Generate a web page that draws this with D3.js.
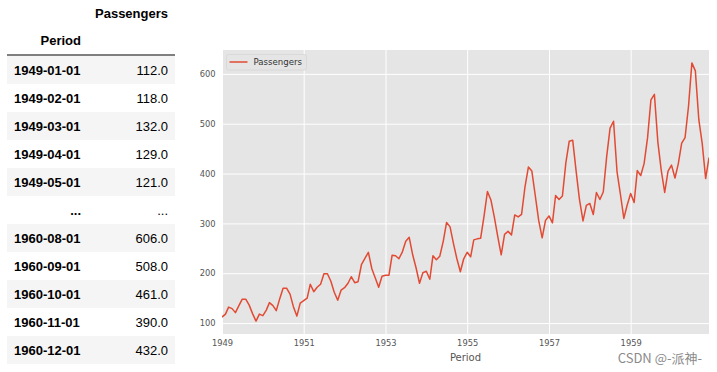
<!DOCTYPE html>
<html>
<head>
<meta charset="utf-8">
<script src="https://cdn.jsdelivr.net/npm/d3@7"></script>
<style>
  body { margin: 0; background: #fff; }
  svg { display: block; }
</style>
</head>
<body>
<div id="chart"></div>
<script>
// monthly airline passengers, 1949-01 .. 1960-12 (one row per year)
const startMonth = '1949-01-01';
const passengers = [
  112, 118, 132, 129, 121, 135, 148, 148, 136, 119, 104, 118,
  115, 126, 141, 135, 125, 149, 170, 170, 158, 133, 114, 140,
  145, 150, 178, 163, 172, 178, 199, 199, 184, 162, 146, 166,
  171, 180, 193, 181, 183, 218, 230, 242, 209, 191, 172, 194,
  196, 196, 236, 235, 229, 243, 264, 272, 237, 211, 180, 201,
  204, 188, 235, 227, 234, 264, 302, 293, 259, 229, 203, 229,
  242, 233, 267, 269, 270, 315, 364, 347, 312, 274, 237, 278,
  284, 277, 317, 313, 318, 374, 413, 405, 355, 306, 271, 306,
  315, 301, 356, 348, 355, 422, 465, 467, 404, 347, 305, 336,
  340, 318, 362, 348, 363, 435, 491, 505, 404, 359, 310, 337,
  360, 342, 406, 396, 420, 472, 548, 559, 463, 407, 362, 405,
  417, 391, 419, 461, 472, 535, 622, 606, 508, 461, 390, 432
];
const yTicks = [100, 200, 300, 400, 500, 600];
const xTickYears = [1949, 1951, 1953, 1955, 1957, 1959];

// table shown next to the chart (df head/tail)
const tableIndex = ['1949-01-01', '1949-02-01', '1949-03-01', '1949-04-01', '1949-05-01',
  '...', '1960-08-01', '1960-09-01', '1960-10-01', '1960-11-01', '1960-12-01'];
const tableValues = ['112.0', '118.0', '132.0', '129.0', '121.0',
  '...', '606.0', '508.0', '461.0', '390.0', '432.0'];

const W = 717, H = 372;
const svg = d3.select('#chart').append('svg')
  .attr('width', W)
  .attr('height', H);

// ---- table ----
const tbl = svg.append('g').attr('font-family', '"Liberation Sans", Arial, sans-serif')
  .attr('font-size', 13).attr('fill', '#000');
const rowTop = 56, rowH = 28, tblLeft = 7, tblRight = 175;

tbl.append('text').attr('x', 168).attr('y', 17.5)
  .attr('text-anchor', 'end').attr('font-weight', 'bold').text('Passengers');
tbl.append('text').attr('x', 81).attr('y', 45)
  .attr('text-anchor', 'end').attr('font-weight', 'bold').text('Period');
tbl.append('line')
  .attr('x1', tblLeft).attr('x2', tblRight)
  .attr('y1', 55).attr('y2', 55)
  .attr('stroke', '#000').attr('stroke-width', 1);

const rows = tbl.selectAll('.row')
  .data(tableIndex.map((d, i) => ({ idx: d, val: tableValues[i], i })))
  .enter().append('g')
  .attr('class', 'row')
  .attr('transform', d => `translate(0,${rowTop + d.i * rowH})`);

rows.filter(d => d.i % 2 === 0).append('rect')
  .attr('x', tblLeft).attr('y', 0)
  .attr('width', tblRight - tblLeft).attr('height', rowH)
  .attr('fill', '#f5f5f5');

rows.append('text')
  .attr('x', d => d.idx === '...' ? 81 : 14)
  .attr('y', 18.5)
  .attr('text-anchor', d => d.idx === '...' ? 'end' : 'start')
  .attr('font-weight', 'bold')
  .text(d => d.idx);

rows.append('text')
  .attr('x', 168).attr('y', 18.5)
  .attr('text-anchor', 'end')
  .text(d => d.val);

// ---- line chart ----
const parse = d3.timeParse('%Y-%m-%d');
const t0 = parse(startMonth);
const series = passengers.map((v, i) => ({ date: d3.timeMonth.offset(t0, i), value: v }));

const plot = { left: 222, right: 709, top: 50, bottom: 334 };
const x = d3.scaleTime()
  .domain(d3.extent(series, d => d.date))
  .range([plot.left, plot.right]);

const [vmin, vmax] = d3.extent(passengers);
const pad = (vmax - vmin) * 0.05;
const y = d3.scaleLinear()
  .domain([vmin - pad, vmax + pad])
  .range([plot.bottom, plot.top]);

svg.append('rect')
  .attr('x', plot.left).attr('y', plot.top)
  .attr('width', plot.right - plot.left)
  .attr('height', plot.bottom - plot.top)
  .attr('fill', '#E5E5E5');

const xTicks = xTickYears.map(yr => new Date(yr, 0, 1));

// grid
svg.append('g')
  .attr('transform', `translate(0,${plot.bottom})`)
  .call(d3.axisBottom(x).tickValues(xTicks).tickSize(-(plot.bottom - plot.top)).tickFormat(''))
  .call(g => g.select('.domain').remove())
  .call(g => g.selectAll('line').attr('stroke', '#fff').attr('stroke-width', 1));

svg.append('g')
  .attr('transform', `translate(${plot.left},0)`)
  .call(d3.axisLeft(y).tickValues(yTicks).tickSize(-(plot.right - plot.left)).tickFormat(''))
  .call(g => g.select('.domain').remove())
  .call(g => g.selectAll('line').attr('stroke', '#fff').attr('stroke-width', 1));

// tick labels
const xAxis = svg.append('g')
  .attr('transform', `translate(0,${plot.bottom})`)
  .call(d3.axisBottom(x).tickValues(xTicks).tickSize(0).tickPadding(6).tickFormat(d3.timeFormat('%Y')));
xAxis.select('.domain').remove();
xAxis.selectAll('text')
  .attr('font-family', '"DejaVu Sans", sans-serif')
  .attr('font-size', 8.3)
  .attr('fill', '#555');

const yAxis = svg.append('g')
  .attr('transform', `translate(${plot.left},0)`)
  .call(d3.axisLeft(y).tickValues(yTicks).tickSize(0).tickPadding(6.5));
yAxis.select('.domain').remove();
yAxis.selectAll('text')
  .attr('font-family', '"DejaVu Sans", sans-serif')
  .attr('font-size', 8.3)
  .attr('fill', '#555');

svg.append('text')
  .attr('x', (plot.left + plot.right) / 2)
  .attr('y', 360.5)
  .attr('text-anchor', 'middle')
  .attr('font-family', '"DejaVu Sans", sans-serif')
  .attr('font-size', 10)
  .attr('fill', '#555')
  .text('Period');

// clip so the line stays inside the axes
svg.append('clipPath').attr('id', 'clip')
  .append('rect')
  .attr('x', plot.left).attr('y', plot.top)
  .attr('width', plot.right - plot.left)
  .attr('height', plot.bottom - plot.top);

const line = d3.line()
  .x(d => x(d.date))
  .y(d => y(d.value));

svg.append('path')
  .datum(series)
  .attr('clip-path', 'url(#clip)')
  .attr('d', line)
  .attr('fill', 'none')
  .attr('stroke', '#E24A33')
  .attr('stroke-width', 1.5)
  .attr('stroke-linejoin', 'round');

// legend
const lg = svg.append('g').attr('transform', `translate(${plot.left + 4.5},${plot.top + 4.5})`);
lg.append('rect')
  .attr('width', 80).attr('height', 15.5)
  .attr('rx', 2)
  .attr('fill', '#E5E5E5')
  .attr('stroke', '#d6d6d6')
  .attr('stroke-width', 0.8);
lg.append('line')
  .attr('x1', 3).attr('x2', 21)
  .attr('y1', 7.5).attr('y2', 7.5)
  .attr('stroke', '#E24A33').attr('stroke-width', 1.5);
lg.append('text')
  .attr('x', 27).attr('y', 10.5)
  .attr('font-family', '"DejaVu Sans", sans-serif')
  .attr('font-size', 8.6)
  .attr('fill', '#333')
  .text('Passengers');

// watermark
svg.append('text')
  .attr('x', 702).attr('y', 363)
  .attr('text-anchor', 'end')
  .attr('font-family', '"Noto Sans CJK SC", "Liberation Sans", sans-serif')
  .attr('font-size', 13)
  .attr('fill', '#8a8a8a')
  .text('CSDN @-派神-');
</script>
</body>
</html>
